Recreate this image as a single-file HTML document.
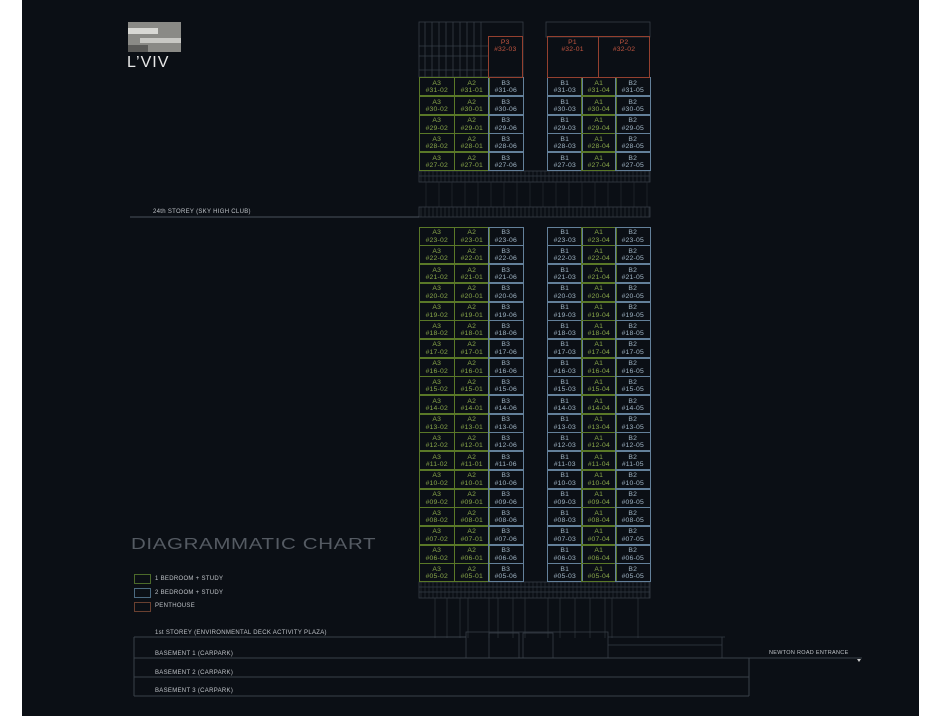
<!DOCTYPE html>
<html><head><meta charset="utf-8"><style>
html,body{margin:0;padding:0;background:#fff;width:943px;height:717px;overflow:hidden}
#p{position:absolute;left:22px;top:0;width:897px;height:716px;background:#0b0f15}
.a{position:absolute}
.c{position:absolute;box-sizing:border-box;font-family:"Liberation Sans",sans-serif;font-size:6.8px;line-height:7.6px;text-align:center;padding-top:1.5px;letter-spacing:0.2px}
.g{border:1px solid #5a7828;color:#8aa84a}
.b{border:1px solid #63809a;color:#a0b5c5}
.r{border:1px solid #94402f;color:#c25540}
.t{position:absolute;font-family:"Liberation Sans",sans-serif;font-size:6px;color:#bfc3c8;letter-spacing:0.3px;white-space:nowrap}
</style></head><body>
<div id="p"></div>
<svg class="a" style="left:0;top:0" width="943" height="717" id="s"></svg>
<div class="a" style="left:128px;top:22px;width:53px;height:30px;background:#8a8a86"></div>
<div class="a" style="left:128px;top:28px;width:30px;height:6px;background:#d8d8d4"></div>
<div class="a" style="left:140px;top:38px;width:41px;height:5px;background:#c8c8c4"></div>
<div class="a" style="left:128px;top:45px;width:20px;height:7px;background:#5a5a58"></div>
<div class="a" style="left:127px;top:54px;font-family:'Liberation Sans',sans-serif;font-size:16px;color:#e8e8e8;letter-spacing:1px">L’VIV</div>
<div class="t" style="left:153px;top:209px">24th STOREY (SKY HIGH CLUB)</div>
<div class="a" style="left:131px;top:536px;font-family:'Liberation Sans',sans-serif;font-size:16px;color:#555b63;letter-spacing:0.5px;transform:scaleX(1.28);transform-origin:left">DIAGRAMMATIC CHART</div>
<div class="a" style="left:134px;top:574px;width:15px;height:8px;border:1px solid #4c6a2a"></div>
<div class="a" style="left:134px;top:588px;width:15px;height:8px;border:1px solid #4c6a80"></div>
<div class="a" style="left:134px;top:602px;width:15px;height:8px;border:1px solid #6a4030"></div>
<div class="t" style="left:155px;top:576px">1 BEDROOM + STUDY</div>
<div class="t" style="left:155px;top:590px">2 BEDROOM + STUDY</div>
<div class="t" style="left:155px;top:603px">PENTHOUSE</div>
<div class="t" style="left:155px;top:630px">1st STOREY (ENVIRONMENTAL DECK ACTIVITY PLAZA)</div>
<div class="t" style="left:155px;top:651px">BASEMENT 1 (CARPARK)</div>
<div class="t" style="left:155px;top:670px">BASEMENT 2 (CARPARK)</div>
<div class="t" style="left:155px;top:688px">BASEMENT 3 (CARPARK)</div>
<div class="t" style="left:769px;top:650px;font-size:5.5px">NEWTON ROAD ENTRANCE</div>
<div id="cells"></div>
<script>
var s=document.getElementById('s'),h='';
function L(x1,y1,x2,y2,c,w){h+='<line x1="'+x1+'" y1="'+y1+'" x2="'+x2+'" y2="'+y2+'" stroke="'+(c||'#363d46')+'" stroke-width="'+(w||0.8)+'"/>';}
function R(x,y,w,hh,c){h+='<rect x="'+x+'" y="'+y+'" width="'+w+'" height="'+hh+'" fill="none" stroke="'+(c||'#363d46')+'" stroke-width="0.8"/>';}
R(419,22,104,55);R(546,22,104,15);
for(var x=425;x<488;x+=7)L(x,22,x,77);
L(419,46,488,46);L(419,56,488,56);L(419,70,488,70);
R(419,171,231,11);L(419,176,650,176);for(var x=421;x<650;x+=4)L(x,171,x,182,'#30373f',0.6);
for(var x=426;x<650;x+=13)L(x,182,x,207,'#282e36',0.6);
R(419,207,231,10);for(var x=421;x<650;x+=4)L(x,207,x,217,'#343b44',0.6);
L(130,217,419,217,'#4a525c',1);
R(419,582,231,16);L(419,587,650,587);L(419,592,650,592);for(var x=421;x<650;x+=4)L(x,582,x,598,'#30373f',0.6);
for(var x of [435,447,460,468,489,498,513,525,548,560,575,590,605,612,638])L(x,598,x,638,'#2e353d',0.7);
R(466,632,142,26);R(489,633,30,25);R(523,633,30,25);L(608,637,725,637);L(608,645,722,645);L(722,637,722,658);
var bc='#3a4149';
L(134,637,466,637,bc,1);L(134,637,134,696,bc,1);
L(134,658,862,658,bc,1);L(134,677,749,677,bc,1);L(134,696,749,696,bc,1);L(749,658,749,696,bc,1);
h+='<polygon points="857,659 861,659 859,662" fill="#ccc"/>';
s.innerHTML=h;
var c='';
function C(x,y,w,hh,cl,a,b){c+='<div class="c '+cl+'" style="left:'+x+'px;top:'+y+'px;width:'+w+'px;height:'+hh+'px">'+a+'<br>#'+b+'</div>';}
var cols=[[419,'g','A3','02'],[454,'g','A2','01'],[488,'b','B3','06'],[547,'b','B1','03'],[581,'g','A1','04'],[615,'b','B2','05']];
function row(n,y){var nn=(n<10?'0':'')+n;cols.forEach(function(k){C(k[0],y,35.5,19,k[1],k[2],nn+'-'+k[3]);});}
for(var i=0;i<5;i++)row(31-i,77.3+i*18.7);
for(var i=0;i<19;i++)row(23-i,226.7+i*18.7);
C(487.5,36,35.5,41.5,'r','P3','32-03');C(546.5,36,52,41.5,'r','P1','32-01');C(598,36,52,41.5,'r','P2','32-02');
document.getElementById('cells').innerHTML=c;
</script>
</body></html>
